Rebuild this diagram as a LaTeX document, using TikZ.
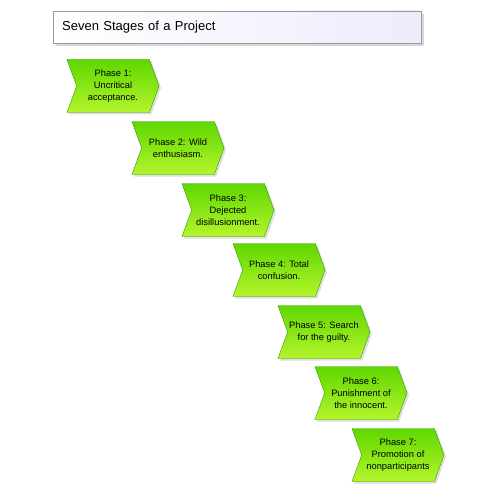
\documentclass[tikz,border=0pt]{standalone}
\usepackage{fontspec}
\setmainfont{Liberation Sans}
\usetikzlibrary{%
  shapes.symbols,%
  shadows%
}
\definecolor{phasetop}{RGB}{95,215,0}
\definecolor{phasebot}{RGB}{180,245,45}
\definecolor{phaseline}{RGB}{55,150,0}
\definecolor{titleright}{RGB}{236,236,252}

\begin{document}
\begin{tikzpicture}[x=1pt,y=-1pt,
  phase/.style={signal,signal from=west,signal to=east,signal pointer angle=140,
    minimum width=92pt,minimum height=53pt,inner sep=1pt,align=center,
    font=\fontsize{9.3}{12}\selectfont,draw=phaseline,top color=phasetop,bottom color=phasebot,
    drop shadow={shadow xshift=2pt,shadow yshift=-2pt,fill=black!25}},
  titlebox/.style={draw=black!40,left color=white,right color=titleright,
    minimum height=32pt,text width=350pt,inner xsep=9pt,align=left,
    font=\fontsize{13}{15}\selectfont,
    drop shadow={shadow xshift=3pt,shadow yshift=-3pt,fill=black!30}}]
  \useasboundingbox (0,0) rectangle (500,500);
  \node[titlebox,anchor=west] (title) at (53,27) {Seven Stages of a Project};
  \node[phase] (phase1) at (113,86) {Phase 1:\\Uncritical\\acceptance.};
  \node[phase] (phase2) at (178,148) {Phase 2: Wild\\enthusiasm.};
  \node[phase] (phase3) at (228,210) {Phase 3:\\Dejected\\disillusionment.};
  \node[phase] (phase4) at (279,270) {Phase 4: Total\\confusion.};
  \node[phase] (phase5) at (324,332) {Phase 5: Search\\for the guilty.};
  \node[phase] (phase6) at (361,393) {Phase 6:\\Punishment of\\the innocent.};
  \node[phase] (phase7) at (398,455) {Phase 7:\\Promotion of\\nonparticipants};
\end{tikzpicture}
\end{document}
